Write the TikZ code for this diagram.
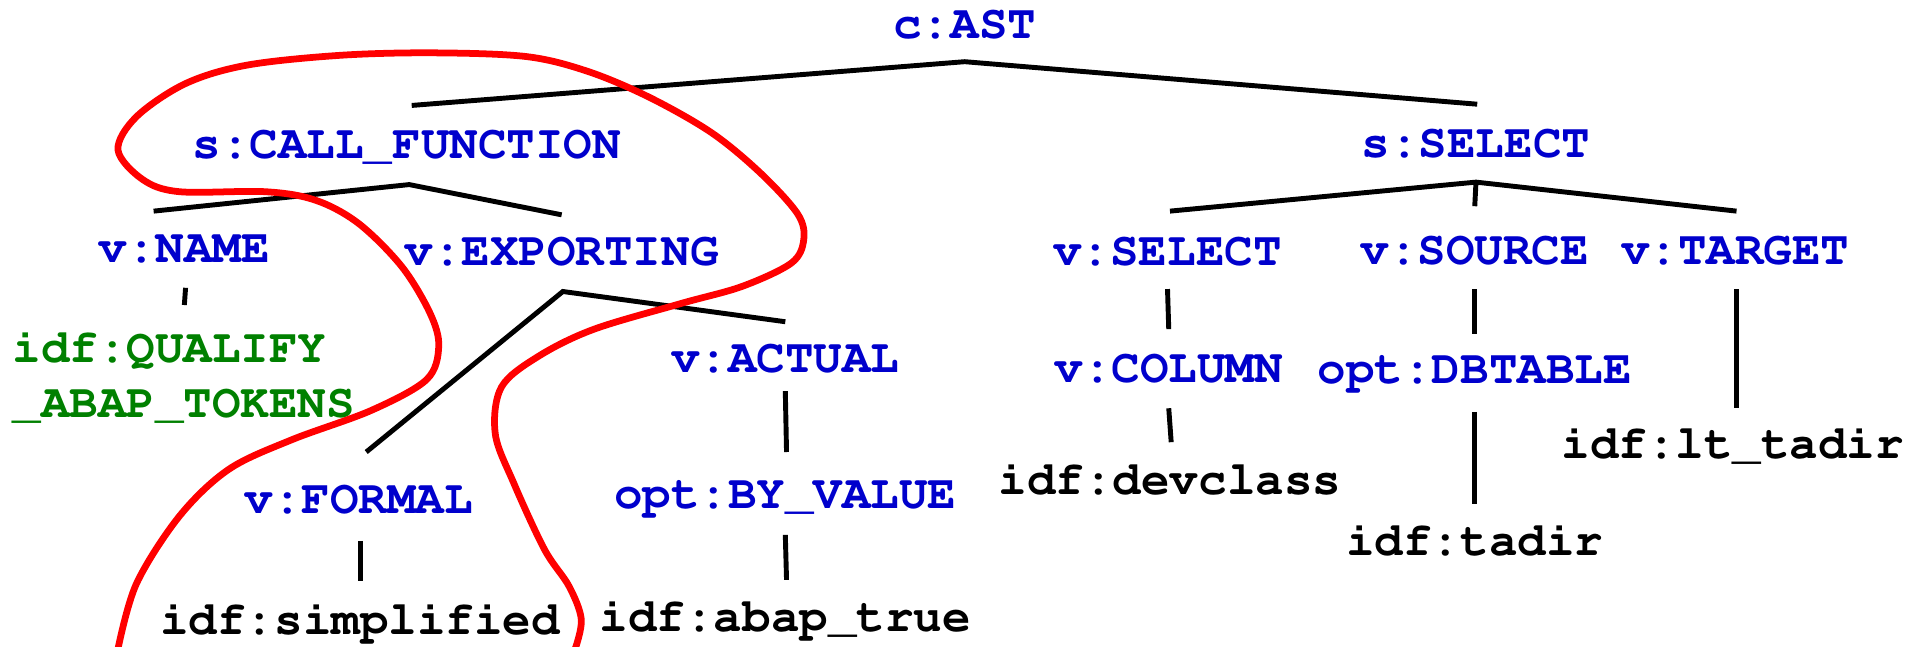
\documentclass[tikz,border=0pt]{standalone}
\usepackage[T1]{fontenc}
\definecolor{tblue}{RGB}{0,0,204}
\definecolor{tgreen}{RGB}{0,128,0}
\newcommand\courb{\fontencoding{T1}\fontfamily{pcr}\fontseries{b}\selectfont\fontsize{38.7}{45}\selectfont}
\begin{document}
\begin{tikzpicture}[x=1pt,y=-1pt,
  lbl/.style={font=\courb, inner sep=0pt, text height=22pt, text depth=0pt, anchor=center},
  bl/.style={lbl, text=tblue},
  bk/.style={lbl, text=black},
  gr/.style={font=\courb, inner sep=0pt, text=tgreen, align=left},
  edge/.style={line width=4pt, black},
  loop/.style={line width=5.5pt, red, line join=round}]
\useasboundingbox (0,0) rectangle (1568,526);
% nodes
\node[bl] (cast) at (785,20) {c:AST};
\node[bl] (cf) at (331,118) {s:CALL\_FUNCTION};
\node[bl] (ssel) at (1201,117) {s:SELECT};
\node[bl] (vname) at (150,203) {v:NAME};
\node[bl] (vexp) at (457,205) {v:EXPORTING};
\node[gr, anchor=base west] (qual) at (10,340) {idf:QUALIFY\\\_ABAP\_TOKENS};
\node[bl] (vact) at (639,292) {v:ACTUAL};
\node[bl] (vform) at (292,407) {v:FORMAL};
\node[bl] (byval) at (639,403) {opt:BY\_VALUE};
\node[bk] (simpl) at (293,505) {idf:simplified};
\node[bk] (abap) at (639,503) {idf:abap\_true};
\node[bl] (vsel) at (950,205) {v:SELECT};
\node[bl] (vsrc) at (1200,204) {v:SOURCE};
\node[bl] (vtgt) at (1412,204) {v:TARGET};
\node[bl] (vcol) at (951,300) {v:COLUMN};
\node[bl] (dbt) at (1200,301) {opt:DBTABLE};
\node[bk] (devc) at (952,391) {idf:devclass};
\node[bk] (tadir) at (1200,441) {idf:tadir};
\node[bk] (lt) at (1410,362) {idf:lt\_tadir};
% edges
\coordinate (a0) at ([yshift=-19pt]cast.south);
\draw[edge] ([shift={(4pt,21pt)}]cf.north) -- (a0) -- ([shift={(1pt,21pt)}]ssel.north);
\coordinate (a1) at ([shift={(2pt,-21pt)}]cf.south);
\draw[edge] ([shift={(-25pt,20pt)}]vname.north) -- (a1) -- ([yshift=19pt]vexp.north);
\draw[edge] ([shift={(1pt,-20pt)}]vname.south) -- ([shift={(0pt,-34pt)}]vname.south);
\coordinate (a2) at ([shift={(1pt,-21pt)}]vexp.south);
\draw[edge] ([shift={(6pt,28pt)}]vform.north) -- (a2) -- ([yshift=19pt]vact.north);
\draw[edge] ([yshift=-15pt]vact.south) -- ([shift={(1pt,24pt)}]byval.north);
\draw[edge] ([yshift=-21pt]byval.south) -- ([shift={(1pt,20pt)}]abap.north);
\draw[edge] ([shift={(1pt,-22pt)}]vform.south) -- ([yshift=21pt]simpl.north);
\coordinate (a3) at ([yshift=-20pt]ssel.south);
\draw[edge] ([shift={(2pt,22pt)}]vsel.north) -- (a3) -- ([shift={(1pt,21pt)}]vtgt.north);
\draw[edge] (a3) -- ([yshift=25pt]vsrc.north);
\draw[edge] ([yshift=-19pt]vsel.south) -- ([yshift=21pt]vcol.north);
\draw[edge] ([yshift=-21pt]vcol.south) -- ([shift={(1pt,20pt)}]devc.north);
\draw[edge] ([yshift=-20pt]vsrc.south) -- ([yshift=18pt]dbt.north);
\draw[edge] ([yshift=-23pt]dbt.south) -- ([yshift=20pt]tadir.north);
\draw[edge] ([shift={(1pt,-20pt)}]vtgt.south) -- ([shift={(3pt,19pt)}]lt.north);
% red loop
\draw[loop] plot[smooth, tension=0.55] coordinates {
 (96,528) (111,475) (146,420) (186,382) (237,358) (302,334) (347,309)
 (357,282) (350,255) (327,217) (292,182) (257,163) (216,156) (146,156)
 (116,146) (96,122) (111,95) (151,68) (201,53) (277,45) (352,43) (428,46)
 (478,58) (528,79) (579,108) (619,141) (649,174) (654,195) (644,214)
 (604,233) (554,247) (483,268) (438,290) (408,315) (403,353) (418,393)
 (443,447) (463,477) (473,504) (468,528)};
\end{tikzpicture}
\end{document}
